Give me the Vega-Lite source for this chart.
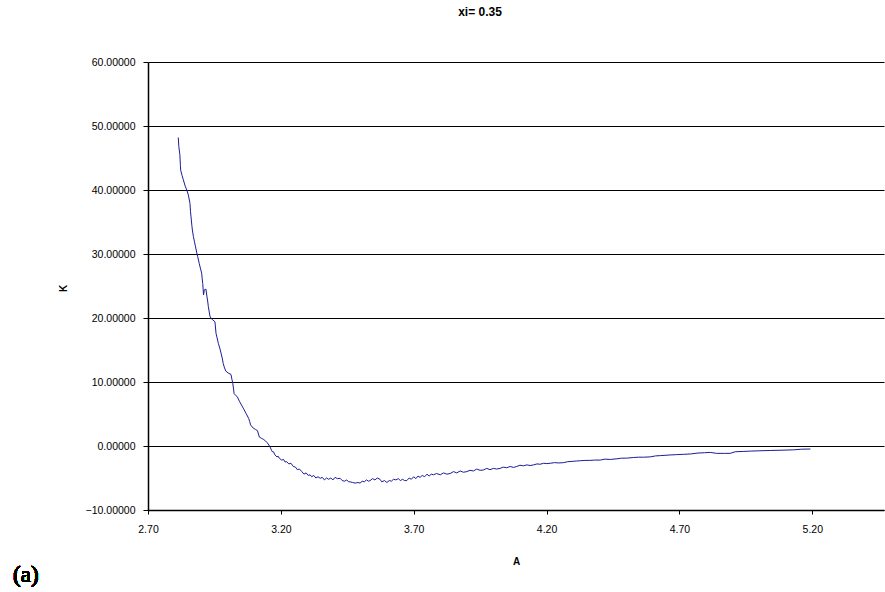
{
  "$schema": "https://vega.github.io/schema/vega-lite/v6.json",
  "width": 736,
  "height": 448,
  "autosize": "none",
  "padding": {"left": 148, "top": 62, "right": 1, "bottom": 82},
  "background": "white",
  "config": {
    "view": {"stroke": null},
    "font": "Liberation Sans",
    "axis": {"labelColor": "black", "titleColor": "black", "domainColor": "black", "tickColor": "black", "labelFont": "Liberation Sans", "titleFont": "Liberation Sans"}
  },
  "title": {"text": "xi= 0.35", "fontSize": 12, "fontWeight": "bold", "font": "Liberation Sans", "color": "black", "anchor": "middle", "dx": -36, "offset": 38},
  "data": {"values": [
    {"A":2.814,"K":48.2},{"A":2.816,"K":46.8},{"A":2.820,"K":45.5},{"A":2.822,"K":43.8},{"A":2.823,"K":43.1},{"A":2.828,"K":42.3},{"A":2.833,"K":41.6},{"A":2.840,"K":40.6},{"A":2.846,"K":40.0},{"A":2.852,"K":39.2},{"A":2.858,"K":37.9},{"A":2.860,"K":36.6},{"A":2.862,"K":35.8},{"A":2.865,"K":34.5},{"A":2.867,"K":33.75},{"A":2.871,"K":32.7},{"A":2.875,"K":31.9},{"A":2.879,"K":31.1},{"A":2.883,"K":30.3},{"A":2.887,"K":29.6},{"A":2.893,"K":28.5},{"A":2.897,"K":27.8},{"A":2.902,"K":27.0},{"A":2.904,"K":26.1},{"A":2.906,"K":25.4},{"A":2.909,"K":23.6},{"A":2.912,"K":24.4},{"A":2.918,"K":24.5},{"A":2.922,"K":23.3},{"A":2.925,"K":22.5},{"A":2.927,"K":21.8},{"A":2.933,"K":20.3},{"A":2.938,"K":19.9},{"A":2.944,"K":19.7},{"A":2.952,"K":19.4},{"A":2.956,"K":17.6},{"A":2.960,"K":16.9},{"A":2.965,"K":16.0},{"A":2.970,"K":15.3},{"A":2.975,"K":14.5},{"A":2.980,"K":13.6},{"A":2.983,"K":12.9},{"A":2.988,"K":12.2},{"A":2.993,"K":11.7},{"A":3.002,"K":11.4},{"A":3.012,"K":11.2},{"A":3.016,"K":10.4},{"A":3.019,"K":9.8},{"A":3.022,"K":8.9},{"A":3.024,"K":8.2},{"A":3.030,"K":7.9},{"A":3.036,"K":7.7},{"A":3.044,"K":7.0},{"A":3.052,"K":6.4},{"A":3.060,"K":5.8},{"A":3.069,"K":5.1},{"A":3.079,"K":4.3},{"A":3.083,"K":3.8},{"A":3.086,"K":3.3},{"A":3.096,"K":2.8},{"A":3.104,"K":2.6},{"A":3.112,"K":2.4},{"A":3.119,"K":1.4},{"A":3.127,"K":1.2},{"A":3.134,"K":1.05},{"A":3.142,"K":0.8},{"A":3.149,"K":0.5},{"A":3.159,"K":-0.1},{"A":3.163,"K":-0.5},{"A":3.168,"K":-0.9},{"A":3.172,"K":-0.9},{"A":3.178,"K":-1.4},{"A":3.185,"K":-1.7},{"A":3.190,"K":-1.6},{"A":3.194,"K":-1.9},{"A":3.203,"K":-2.2},{"A":3.210,"K":-2.1},{"A":3.216,"K":-2.5},{"A":3.222,"K":-2.45},{"A":3.230,"K":-2.8},{"A":3.238,"K":-2.7},{"A":3.247,"K":-3.2},{"A":3.255,"K":-3.3},{"A":3.262,"K":-3.7},{"A":3.270,"K":-3.6},{"A":3.279,"K":-4.0},{"A":3.287,"K":-4.4},{"A":3.295,"K":-4.2},{"A":3.303,"K":-4.6},{"A":3.310,"K":-4.5},{"A":3.316,"K":-4.8},{"A":3.324,"K":-4.6},{"A":3.332,"K":-5.0},{"A":3.340,"K":-4.8},{"A":3.348,"K":-5.05},{"A":3.356,"K":-4.9},{"A":3.364,"K":-5.3},{"A":3.372,"K":-5.0},{"A":3.380,"K":-5.2},{"A":3.388,"K":-5.0},{"A":3.396,"K":-5.3},{"A":3.404,"K":-4.9},{"A":3.413,"K":-5.1},{"A":3.423,"K":-5.05},{"A":3.431,"K":-5.4},{"A":3.440,"K":-5.5},{"A":3.448,"K":-5.3},{"A":3.455,"K":-5.6},{"A":3.461,"K":-5.6},{"A":3.470,"K":-5.7},{"A":3.480,"K":-5.8},{"A":3.490,"K":-5.7},{"A":3.498,"K":-5.8},{"A":3.506,"K":-5.5},{"A":3.514,"K":-5.6},{"A":3.522,"K":-5.3},{"A":3.530,"K":-5.5},{"A":3.536,"K":-5.4},{"A":3.545,"K":-5.1},{"A":3.554,"K":-5.3},{"A":3.563,"K":-5.0},{"A":3.573,"K":-5.2},{"A":3.580,"K":-5.6},{"A":3.590,"K":-5.4},{"A":3.599,"K":-5.7},{"A":3.608,"K":-5.4},{"A":3.616,"K":-5.5},{"A":3.624,"K":-5.2},{"A":3.633,"K":-5.3},{"A":3.642,"K":-5.1},{"A":3.650,"K":-5.4},{"A":3.658,"K":-5.2},{"A":3.666,"K":-5.4},{"A":3.674,"K":-5.4},{"A":3.683,"K":-5.0},{"A":3.691,"K":-5.2},{"A":3.700,"K":-4.8},{"A":3.708,"K":-5.1},{"A":3.716,"K":-4.7},{"A":3.724,"K":-4.9},{"A":3.732,"K":-4.6},{"A":3.741,"K":-4.8},{"A":3.750,"K":-4.4},{"A":3.758,"K":-4.7},{"A":3.766,"K":-4.4},{"A":3.774,"K":-4.5},{"A":3.786,"K":-4.3},{"A":3.800,"K":-4.5},{"A":3.812,"K":-4.2},{"A":3.825,"K":-4.4},{"A":3.837,"K":-4.3},{"A":3.850,"K":-4.0},{"A":3.862,"K":-4.2},{"A":3.875,"K":-3.9},{"A":3.887,"K":-4.1},{"A":3.900,"K":-4.0},{"A":3.912,"K":-3.8},{"A":3.925,"K":-3.9},{"A":3.937,"K":-3.6},{"A":3.950,"K":-3.8},{"A":3.962,"K":-3.75},{"A":3.975,"K":-3.5},{"A":3.987,"K":-3.7},{"A":4.000,"K":-3.5},{"A":4.012,"K":-3.6},{"A":4.025,"K":-3.5},{"A":4.037,"K":-3.3},{"A":4.050,"K":-3.4},{"A":4.063,"K":-3.2},{"A":4.075,"K":-3.35},{"A":4.088,"K":-3.2},{"A":4.100,"K":-3.0},{"A":4.113,"K":-3.1},{"A":4.126,"K":-2.95},{"A":4.138,"K":-3.05},{"A":4.151,"K":-2.95},{"A":4.164,"K":-2.8},{"A":4.176,"K":-2.85},{"A":4.189,"K":-2.7},{"A":4.201,"K":-2.75},{"A":4.214,"K":-2.7},{"A":4.230,"K":-2.6},{"A":4.246,"K":-2.65},{"A":4.264,"K":-2.6},{"A":4.280,"K":-2.45},{"A":4.296,"K":-2.4},{"A":4.312,"K":-2.35},{"A":4.327,"K":-2.3},{"A":4.345,"K":-2.25},{"A":4.363,"K":-2.25},{"A":4.380,"K":-2.2},{"A":4.402,"K":-2.2},{"A":4.420,"K":-2.05},{"A":4.440,"K":-2.1},{"A":4.465,"K":-2.0},{"A":4.482,"K":-1.9},{"A":4.500,"K":-1.9},{"A":4.527,"K":-1.8},{"A":4.545,"K":-1.75},{"A":4.565,"K":-1.75},{"A":4.590,"K":-1.7},{"A":4.610,"K":-1.55},{"A":4.630,"K":-1.5},{"A":4.665,"K":-1.4},{"A":4.690,"K":-1.35},{"A":4.715,"K":-1.3},{"A":4.741,"K":-1.25},{"A":4.770,"K":-1.1},{"A":4.795,"K":-1.05},{"A":4.816,"K":-1.0},{"A":4.840,"K":-1.15},{"A":4.870,"K":-1.15},{"A":4.891,"K":-1.15},{"A":4.910,"K":-0.9},{"A":4.940,"K":-0.85},{"A":4.967,"K":-0.8},{"A":5.000,"K":-0.75},{"A":5.042,"K":-0.7},{"A":5.090,"K":-0.65},{"A":5.130,"K":-0.6},{"A":5.160,"K":-0.5},{"A":5.193,"K":-0.47}
  ]},
  "layer": [
    {
      "mark": {"type": "line", "color": "#1c1c96", "strokeWidth": 1, "interpolate": "linear"},
      "encoding": {
        "x": {"field": "A", "type": "quantitative", "title": "A",
          "scale": {"domain": [2.70, 5.47], "nice": false, "zero": false},
          "axis": {"values": [2.7, 3.2, 3.7, 4.2, 4.7, 5.2], "format": ".2f", "grid": false, "labelFontSize": 10.5, "titleFontSize": 10, "titleFontWeight": "bold", "tickSize": 4, "labelPadding": 10, "titleY": 46, "domainWidth": 1.5, "labelFlush": false}},
        "y": {"field": "K", "type": "quantitative", "title": "K",
          "scale": {"domain": [-10, 60], "nice": false, "zero": false},
          "axis": {"values": [-10, 0, 10, 20, 30, 40, 50, 60], "format": ".5f", "grid": true, "gridColor": "black", "gridOpacity": 1, "gridWidth": 1, "labelFontSize": 10.5, "titleFontSize": 10, "titleFontWeight": "bold", "tickSize": 5, "labelPadding": 8, "titleX": -80, "titleY": 226, "domainWidth": 1.5}}
      }
    },
    {
      "mark": {"type": "text", "font": "Liberation Serif", "fontWeight": "normal", "fontSize": 23, "color": "black", "align": "center", "baseline": "middle"},
      "encoding": {
        "x": {"datum": 2.24, "type": "quantitative"},
        "y": {"datum": -20.2, "type": "quantitative"},
        "text": {"value": "(a)"}
      }
    }
  ]
}
